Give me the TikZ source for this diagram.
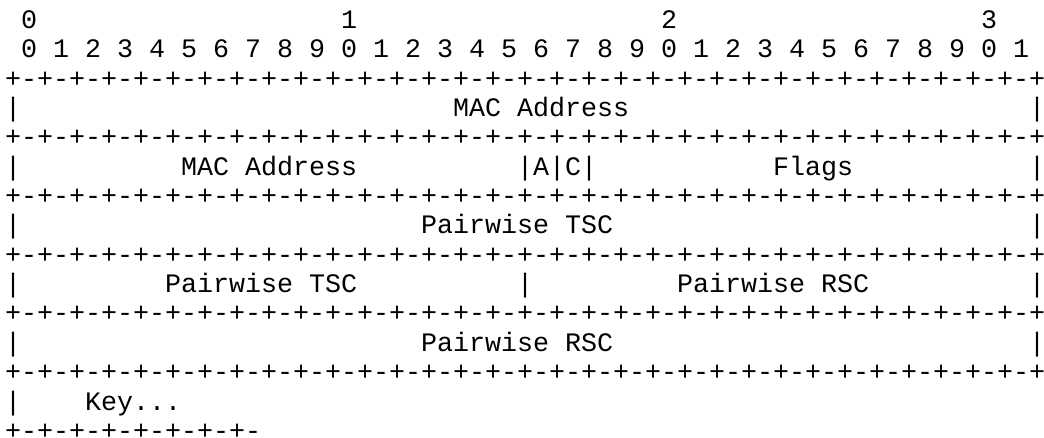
\documentclass[tikz,border=0pt]{standalone}
\usepackage{fontspec}
\newfontfamily\pktfont{Liberation Mono}
\newcommand\pktsep{+-+-+-+-+-+-+-+-+-+-+-+-+-+-+-+-+-+-+-+-+-+-+-+-+-+-+-+-+-+-+-+-+}

\begin{document}
\begin{tikzpicture}[x=16bp,y=-29.35bp,
	field/.style={anchor=base west,inner sep=0pt,outer sep=0pt,yshift=-9.5bp,text depth=0pt,
		font=\pktfont\fontsize{26.67bp}{29.35bp}\selectfont}]
	\useasboundingbox (-0.3125,-0.647) rectangle (64.9375,14.276);
	\node [field] (tens0) at (1,0) {0};
	\node [field] (tens1) at (21,0) {1};
	\node [field] (tens2) at (41,0) {2};
	\node [field] (tens3) at (61,0) {3};
	\node [field] (units) at (1,1) {0 1 2 3 4 5 6 7 8 9 0 1 2 3 4 5 6 7 8 9 0 1 2 3 4 5 6 7 8 9 0 1};
	\node [field] (sepA) at (0,2) {\pktsep};
	\node [field] (macL) at (0,3) {|};
	\node [field] (macA) at (28,3) {MAC Address};
	\node [field] (macR) at (64,3) {|};
	\node [field] (sepB) at (0,4) {\pktsep};
	\node [field] (flagL) at (0,5) {|};
	\node [field] (macB) at (11,5) {MAC Address};
	\node [field] (flagAC) at (32,5) {|A|C|};
	\node [field] (flags) at (48,5) {Flags};
	\node [field] (flagR) at (64,5) {|};
	\node [field] (sepC) at (0,6) {\pktsep};
	\node [field] (tscL) at (0,7) {|};
	\node [field] (tscA) at (26,7) {Pairwise TSC};
	\node [field] (tscR) at (64,7) {|};
	\node [field] (sepD) at (0,8) {\pktsep};
	\node [field] (mixL) at (0,9) {|};
	\node [field] (tscB) at (10,9) {Pairwise TSC};
	\node [field] (mixM) at (32,9) {|};
	\node [field] (rscA) at (42,9) {Pairwise RSC};
	\node [field] (mixR) at (64,9) {|};
	\node [field] (sepE) at (0,10) {\pktsep};
	\node [field] (rscL) at (0,11) {|};
	\node [field] (rscB) at (26,11) {Pairwise RSC};
	\node [field] (rscR) at (64,11) {|};
	\node [field] (sepF) at (0,12) {\pktsep};
	\node [field] (keyL) at (0,13) {|};
	\node [field] (key) at (5,13) {Key...};
	\node [field] (sepG) at (0,14) {+-+-+-+-+-+-+-+-};
\end{tikzpicture}
\end{document}
